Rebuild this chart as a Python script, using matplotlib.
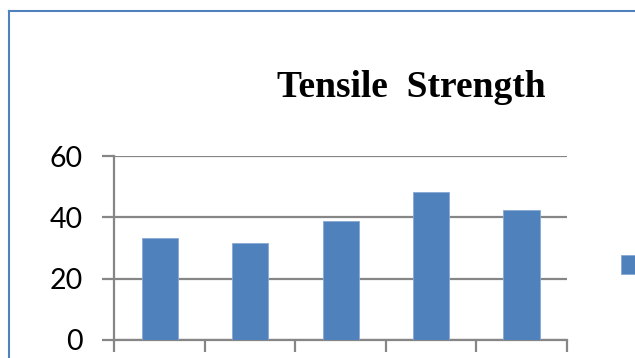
import matplotlib.pyplot as plt
from matplotlib.lines import Line2D

samples = ['1', '2', '3', '4', '5']
strength = [33.2, 31.6, 38.7, 48.3, 42.3]
yticks = [0, 20, 40, 60]

bar_color = '#4F81BD'
grid_color = '#868686'

fig = plt.figure(figsize=(6.35, 3.58), dpi=100)
ax = fig.add_axes([0.1803, 0.0503, 0.7122, 0.5139])

x = list(range(len(samples)))
bars = ax.bar(x, strength, width=0.4, color=bar_color, edgecolor='#8AA8D4',
              linewidth=0.6, zorder=3)

ax.set_xlim(-0.5, len(samples) - 0.5)
ax.set_ylim(0, 60)
ax.set_yticks(yticks)
ax.set_yticklabels([str(v) for v in yticks], fontsize=20.5, family='Lato')
ax.set_xticks([i - 0.5 for i in range(len(samples) + 1)])
ax.set_xticklabels([])

ax.grid(axis='y', color=grid_color, linewidth=1.6, zorder=0)
ax.tick_params(axis='y', length=9, width=1.6, color=grid_color, pad=14)
ax.tick_params(axis='x', length=8.5, width=1.6, color=grid_color)
for side in ['top', 'right']:
    ax.spines[side].set_visible(False)
for side in ['left', 'bottom']:
    ax.spines[side].set_color(grid_color)
    ax.spines[side].set_linewidth(1.6)

fig.text(0.647, 0.729, 'Tensile  Strength', ha='center', va='baseline',
         fontsize=27, fontweight='bold', family='Liberation Serif')

# legend key only, the series name runs past the right edge
fig.legend([bars], [''], loc='center left',
           bbox_to_anchor=(621 / 635, 1 - 265 / 358),
           frameon=False, borderpad=0, borderaxespad=0, handlelength=1,
           handleheight=1.1, handletextpad=0, fontsize=14.4)

# chart frame (top and left edges)
fig.add_artist(Line2D([9 / 635, 9 / 635], [0, 1 - 11 / 358],
                      color=bar_color, linewidth=1.5))
fig.add_artist(Line2D([9 / 635, 1], [1 - 11 / 358, 1 - 11 / 358],
                      color=bar_color, linewidth=1.5))

fig.savefig('out.png', dpi=100)
